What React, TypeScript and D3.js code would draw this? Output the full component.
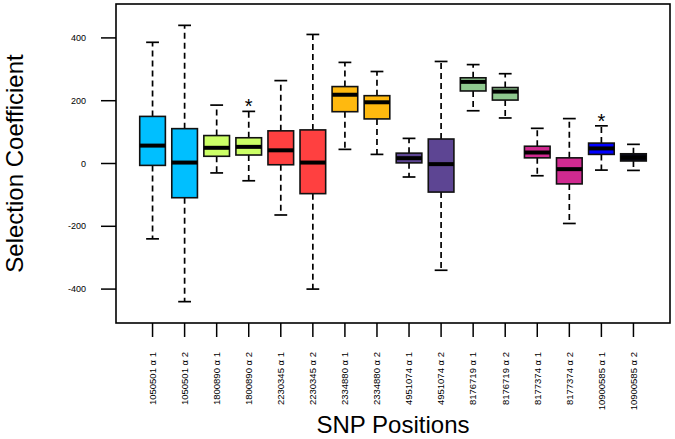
import React from "react";
import * as d3 from "d3";

const labels = [
  "1050501 α 1", "1050501 α 2", "1800890 α 1", "1800890 α 2",
  "2230345 α 1", "2230345 α 2", "2334880 α 1", "2334880 α 2",
  "4951074 α 1", "4951074 α 2", "8176719 α 1", "8176719 α 2",
  "8177374 α 1", "8177374 α 2", "10900585 α 1", "10900585 α 2",
];
const whiskerLow = [-240, -440, -30, -55, -164, -400, 45, 29, -43, -340, 168, 145, -39, -191, -21, -22];
const q1 = [-6, -109, 23, 27, -4, -96, 165, 142, 2, -91, 231, 202, 18, -65, 29, 8];
const median = [57, 3, 50, 53, 42, 3, 219, 195, 17, -2, 260, 229, 35, -18, 48, 19];
const q3 = [150, 111, 89, 82, 104, 107, 245, 216, 33, 78, 273, 242, 55, 18, 65, 31];
const whiskerHigh = [386, 440, 186, 166, 264, 411, 322, 293, 80, 325, 315, 286, 112, 143, 120, 61];
const starred = ["1800890 α 2", "10900585 α 1"];
const yTicks = [-400, -200, 0, 200, 400];

const palette = [
  "#00BFFF", "#00BFFF", "#CCFF66", "#CCFF66",
  "#FF4040", "#FF4040", "#FFB90F", "#FFB90F",
  "#5D4593", "#5D4593", "#8FC98F", "#8FC98F",
  "#D02A90", "#D02A90", "#0000FF", "#08081A",
];

const W = 675;
const H = 439;
const FONT = "'Liberation Sans', Arial, Helvetica, sans-serif";

export default function App() {
  const left = 116, right = 670, top = 4, bottom = 323;
  const x = d3.scaleLinear().domain([-0.14, labels.length + 1.14]).range([left, right]);
  const y = d3.scaleLinear().domain([-508, 508]).range([bottom, top]);
  const bw = x(0.8) - x(0);
  const cw = x(0.4) - x(0);

  return (
    <svg width={W} height={H} style={{ position: "absolute", left: 0, top: 0, background: "#fff" }} fontFamily={FONT}>
      <rect x={0} y={0} width={W} height={H} fill="#fff" />
      {labels.map((lab, i) => {
        const cx = x(i + 1);
        return (
          <g key={lab}>
            <line x1={cx} x2={cx} y1={y(q3[i])} y2={y(whiskerHigh[i])} stroke="#000" strokeWidth={1.7} strokeDasharray="6,4" />
            <line x1={cx} x2={cx} y1={y(q1[i])} y2={y(whiskerLow[i])} stroke="#000" strokeWidth={1.7} strokeDasharray="6,4" />
            <line x1={cx - cw / 2} x2={cx + cw / 2} y1={y(whiskerHigh[i])} y2={y(whiskerHigh[i])} stroke="#000" strokeWidth={1.7} />
            <line x1={cx - cw / 2} x2={cx + cw / 2} y1={y(whiskerLow[i])} y2={y(whiskerLow[i])} stroke="#000" strokeWidth={1.7} />
            <rect x={cx - bw / 2} y={y(q3[i])} width={bw} height={y(q1[i]) - y(q3[i])} fill={palette[i]} stroke="#111" strokeWidth={1.6} />
            <line x1={cx - bw / 2} x2={cx + bw / 2} y1={y(median[i])} y2={y(median[i])} stroke="#000" strokeWidth={4} />
            {starred.includes(lab) && (
              <text x={cx} y={y(whiskerHigh[i]) + 2} textAnchor="middle" fontSize={20} fill="#000">*</text>
            )}
            <line x1={cx} x2={cx} y1={bottom} y2={bottom + 14} stroke="#000" strokeWidth={1.5} />
            <text transform={`translate(${cx},352) rotate(-90)`} textAnchor="end" dy="0.35em" fontSize={9.5} fill="#000">{lab}</text>
          </g>
        );
      })}
      {yTicks.map((t) => (
        <g key={t}>
          <line x1={left - 15} x2={left} y1={y(t)} y2={y(t)} stroke="#000" strokeWidth={1.5} />
          <text x={86} y={y(t)} dy="0.35em" textAnchor="end" fontSize={9} fill="#000">{t}</text>
        </g>
      ))}
      <rect x={left} y={top} width={right - left} height={bottom - top} fill="none" stroke="#000" strokeWidth={1.6} />
      <text transform={`translate(23,${(top + bottom) / 2}) rotate(-90)`} textAnchor="middle" fontSize={24} fill="#000">Selection Coefficient</text>
      <text x={(left + right) / 2} y={433} textAnchor="middle" fontSize={24} fill="#000">SNP Positions</text>
    </svg>
  );
}
